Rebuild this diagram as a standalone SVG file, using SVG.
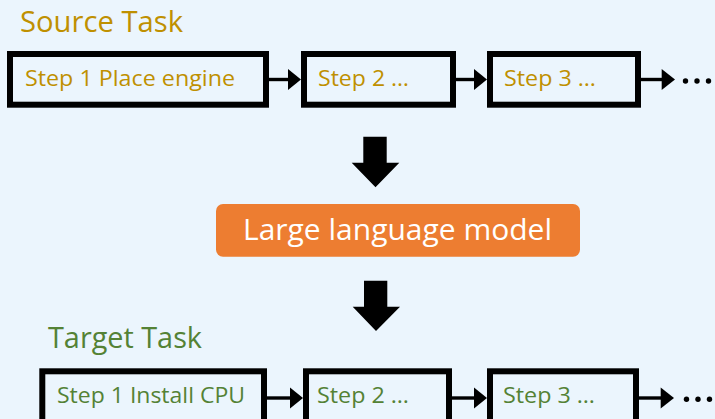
<svg xmlns="http://www.w3.org/2000/svg" width="715" height="419" viewBox="0 0 715 419">
  <defs>
    <style>
      .bg { fill: #EBF5FD; }
      .step { fill: #EBF5FD; stroke: #000; stroke-width: 6; }
      .link { stroke: #000; stroke-width: 3.4; fill: none; }
      .head { fill: #000; }
      .txt { font-family: "Open Sans", "Noto Sans", sans-serif; }
      .src { fill: #BF9000; }
      .tgt { fill: #548235; }
      .title { font-size: 30px; }
      .label { font-size: 21px; }
      .llm-box { fill: #ED7D31; }
      .llm-txt { fill: #FFFFFF; font-size: 29px; }
      .dot { fill: #000; }
    </style>
  </defs>

  <rect class="bg" x="0" y="0" width="715" height="419"/>

  <!-- Section headings -->
  <text class="txt title src" x="20" y="31.7" textLength="163" lengthAdjust="spacingAndGlyphs">Source Task</text>
  <text class="txt title tgt" x="48" y="348.3" textLength="154" lengthAdjust="spacingAndGlyphs">Target Task</text>

  <!-- Source task steps -->
  <g id="src-step1">
    <rect class="step" x="10" y="54" width="256" height="50.7"/>
    <text class="txt label src" x="25" y="86" textLength="210" lengthAdjust="spacingAndGlyphs">Step 1 Place engine</text>
  </g>
  <g id="src-step2">
    <rect class="step" x="304" y="54" width="149" height="50.7"/>
    <text class="txt label src" x="318" y="86" textLength="91" lengthAdjust="spacingAndGlyphs">Step 2 …</text>
  </g>
  <g id="src-step3">
    <rect class="step" x="490" y="54" width="148" height="50.7"/>
    <text class="txt label src" x="504" y="86" textLength="92" lengthAdjust="spacingAndGlyphs">Step 3 …</text>
  </g>

  <!-- Language model -->
  <g id="llm">
    <rect class="llm-box" x="216" y="204" width="364" height="52.7" rx="7"/>
    <text class="txt llm-txt" x="243" y="240" textLength="309" lengthAdjust="spacingAndGlyphs">Large language model</text>
  </g>

  <!-- Target task steps -->
  <g id="tgt-step1">
    <rect class="step" x="42.3" y="371.3" width="221.7" height="50.7"/>
    <text class="txt label tgt" x="57" y="402.7" textLength="188" lengthAdjust="spacingAndGlyphs">Step 1 Install CPU</text>
  </g>
  <g id="tgt-step2">
    <rect class="step" x="306" y="371.3" width="143" height="50.7"/>
    <text class="txt label tgt" x="317" y="402.7" textLength="92" lengthAdjust="spacingAndGlyphs">Step 2 …</text>
  </g>
  <g id="tgt-step3">
    <rect class="step" x="490" y="371.3" width="146" height="50.7"/>
    <text class="txt label tgt" x="503" y="402.7" textLength="92" lengthAdjust="spacingAndGlyphs">Step 3 …</text>
  </g>

  <!-- Connectors -->
  <g id="connectors">
    <!-- source row -->
    <line class="link" x1="269" y1="79.5" x2="290" y2="79.5"/>
    <polygon class="head" points="288,69 301,79.5 288,90"/>
    <line class="link" x1="456" y1="79.5" x2="476" y2="79.5"/>
    <polygon class="head" points="474,69 487,79.5 474,90"/>
    <line class="link" x1="641" y1="79.5" x2="663" y2="79.5"/>
    <polygon class="head" points="661.7,69 675,79.5 661.7,90"/>

    <!-- target row -->
    <line class="link" x1="267" y1="398" x2="292" y2="398"/>
    <polygon class="head" points="290,387.5 303,398 290,408.5"/>
    <line class="link" x1="452" y1="398" x2="476" y2="398"/>
    <polygon class="head" points="474,387.5 487,398 474,408.5"/>
    <line class="link" x1="639" y1="398" x2="662" y2="398"/>
    <polygon class="head" points="660.7,387.5 674,398 660.7,408.5"/>

    <!-- block arrows through the model -->
    <polygon class="head" points="363.3,136.7 386.7,136.7 386.7,162.7 399.3,162.7 375.5,187.3 351.7,162.7 363.3,162.7"/>
    <polygon class="head" points="364,280.7 387.3,280.7 387.3,306.7 400,306.7 376,331 352.7,306.7 364,306.7"/>
  </g>

  <!-- continuation dots -->
  <g id="more-src">
    <circle class="dot" cx="685.5" cy="81" r="2.7"/>
    <circle class="dot" cx="697" cy="81" r="2.7"/>
    <circle class="dot" cx="708.5" cy="81" r="2.7"/>
  </g>
  <g id="more-tgt">
    <circle class="dot" cx="686.5" cy="399.3" r="2.7"/>
    <circle class="dot" cx="698" cy="399.3" r="2.7"/>
    <circle class="dot" cx="709.5" cy="399.3" r="2.7"/>
  </g>
</svg>
